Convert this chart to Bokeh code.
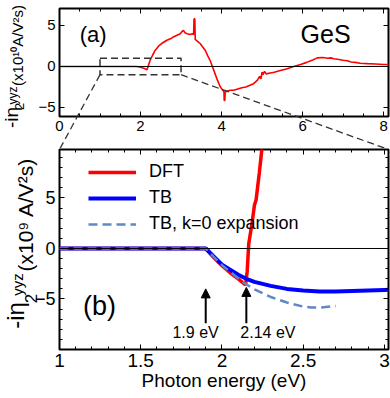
import numpy as np
from bokeh.plotting import figure
from bokeh.layouts import column
from bokeh.models import (Range1d, LinearAxis, FixedTicker, Span, Arrow,
                          NormalHead, Label)
from bokeh.core.properties import value
from bokeh.embed import file_html
from bokeh.resources import INLINE

FONT = "Liberation Sans"

# ---------------- data: panel (a) DFT spectrum (x10^10 A/V^2 s) ----------------
top_energy = [0, 1.9, 2.0, 2.1, 2.16, 2.2, 2.24, 2.3, 2.36, 2.45, 2.55, 2.65, 2.75, 2.81,
              2.9, 2.98, 3.03, 3.06, 3.1, 3.15, 3.22, 3.28, 3.31, 3.32, 3.34, 3.35, 3.4,
              3.47, 3.53, 3.6, 3.66, 3.72, 3.78, 3.84, 3.9, 3.97, 4.03, 4.06, 4.065, 4.08,
              4.09, 4.15, 4.21, 4.3, 4.4, 4.5, 4.6, 4.7, 4.79, 4.88, 4.94, 4.97, 5.0, 5.02,
              5.06, 5.1, 5.2, 5.3, 5.45, 5.6, 5.78, 5.95, 6.1, 6.25, 6.36, 6.5, 6.62, 6.7,
              6.77, 6.9, 7.0, 7.1, 7.2, 7.3, 7.42, 7.6, 7.8, 8.0, 8.12]
top_dft = [0, 0, -0.1, -0.25, -0.4, 0.2, 0.8, 1.4, 1.95, 2.5, 2.9, 3.2, 3.4, 3.6,
           3.8, 4.0, 4.3, 4.4, 4.1, 4.0, 3.9, 4.0, 3.9, 5.8, 5.8, 3.3, 3.1,
           2.8, 2.4, 1.95, 1.3, 0.7, -0.1, -0.9, -1.7, -2.5, -2.9, -3.1, -4.15, -4.15,
           -3.1, -3.0, -2.9, -2.9, -2.75, -2.6, -2.5, -2.3, -2.1, -1.7, -1.2, -1.5, -0.7, -1.0,
           -0.6, -0.9, -0.8, -0.7, -0.5, -0.3, 0.0, 0.25, 0.5, 0.8, 1.05, 1.1, 1.0, 1.05,
           0.95, 0.85, 0.75, 0.7, 0.55, 0.5, 0.4, 0.35, 0.3, 0.25, 0.25]
zoom_box_x = [1, 3]
zoom_box_y = [-1, 1]

# ---------------- data: panel (b) (x10^9 A/V^2 s) ----------------
dft_energy = [1.0, 1.9, 1.95, 2.0, 2.05, 2.1, 2.145, 2.155, 2.165, 2.185, 2.2, 2.21,
              2.215, 2.23, 2.25]
dft_val = [0, 0, -0.9, -1.7, -2.4, -3.0, -3.6, -2.3, 0.5, 2.5, 4.3, 4.8, 5.5, 7.5, 10.5]
tb_energy = [1.0, 1.9, 1.95, 2.0, 2.05, 2.1, 2.15, 2.2, 2.3, 2.4, 2.5, 2.6, 2.7, 2.8,
             2.9, 3.0, 3.05]
tb_val = [0, 0, -0.8, -1.6, -2.1, -2.6, -3.0, -3.3, -3.7, -4.0, -4.15, -4.25, -4.25,
          -4.2, -4.15, -4.1, -4.08]
k0_energy = [1.0, 1.9, 1.95, 2.0, 2.05, 2.1, 2.15, 2.2, 2.3, 2.4, 2.5, 2.55, 2.6, 2.7]
k0_val = [0, 0, -0.85, -1.65, -2.3, -2.95, -3.55, -4.05, -4.8, -5.35, -5.75, -5.85,
          -5.85, -5.7]
marker_energy = [1.9, 2.15]
marker_text = ["1.9 eV", "2.14 eV"]
marker_tail = [-7.4, -7.4]
marker_head = [-4.0, -3.85]

# ---------------- layout constants (pixels) ----------------
FW = 329           # frame width, both panels
LB = 59            # left border
RB = 2             # right border
FH1, TOP1, BOT1 = 108, 8, 32     # panel (a): frame h, top border, bottom border
FH2, TOP2, BOT2 = 200, 1, 49     # panel (b)
XR1, YR1 = (0, 8.12), (-6.1, 7.07)
XR2, YR2 = (1, 3.025), (-10, 9.8)


def style_axis(ax, size, labels=True):
    ax.axis_line_color = None
    ax.major_tick_in = 5
    ax.major_tick_out = 0
    ax.minor_tick_in = 3
    ax.minor_tick_out = 0
    ax.major_tick_line_color = "black"
    ax.minor_tick_line_color = "black"
    ax.major_label_text_font = FONT
    if labels:
        ax.major_label_text_color = "black"
        ax.major_label_text_font_size = size
        ax.major_label_standoff = 4
    else:
        ax.major_label_text_color = None
        ax.major_label_text_font_size = "1px"
        ax.major_label_standoff = 0


def base_fig(fh, xr, yr, top, bottom):
    p = figure(frame_width=FW, frame_height=fh, x_range=Range1d(*xr), y_range=Range1d(*yr),
               output_backend="svg", toolbar_location=None,
               min_border_left=LB, min_border_right=RB, min_border_top=top,
               min_border_bottom=bottom)
    p.xgrid.visible = False
    p.ygrid.visible = False
    p.outline_line_color = "black"
    p.outline_line_width = 2
    p.outline_line_alpha = 1
    p.background_fill_color = "white"
    p.border_fill_color = "white"
    return p


def mirror_axes(p, xt, yt):
    a = LinearAxis(ticker=xt)
    style_axis(a, None, labels=False)
    p.add_layout(a, "above")
    r = LinearAxis(ticker=yt)
    style_axis(r, None, labels=False)
    p.add_layout(r, "right")


def ylab(p, xr, yr, dx, dy, text, size):
    # rotated text placed relative to the frame's bottom-left corner (pixels)
    p.text(x=[xr[0]], y=[yr[0]], text=[text], x_offset=dx, y_offset=dy, angle=np.pi / 2,
           text_align="center", text_baseline="middle", text_font=value(FONT),
           text_font_size=size, text_color="black", level="overlay")


# ================= panel (a) =================
p1 = base_fig(FH1, XR1, YR1, TOP1, BOT1)
xt1 = FixedTicker(ticks=[0, 2, 4, 6, 8], minor_ticks=list(np.arange(0, 8.01, 0.5)))
yt1 = FixedTicker(ticks=[-5, 0, 5], minor_ticks=[])
p1.xaxis.ticker = xt1
p1.yaxis.ticker = yt1
style_axis(p1.xaxis[0], "15px")
style_axis(p1.yaxis[0], "15px")
mirror_axes(p1, xt1, yt1)

p1.add_layout(Span(location=0, dimension="width", line_color="black", line_width=1))
p1.line(top_energy, top_dft, line_color="#ff0000", line_width=1.6)
p1.quad(left=[zoom_box_x[0]], right=[zoom_box_x[1]], bottom=[zoom_box_y[0]],
        top=[zoom_box_y[1]], fill_color=None, line_color="#333333", line_width=1.5,
        line_dash="7 4")
# connector lines from the zoom box to the corners of panel (b)
y_conn = YR1[0] - (BOT1 + TOP2) * (YR1[1] - YR1[0]) / FH1
p1.segment(x0=[zoom_box_x[0], zoom_box_x[1]], y0=[zoom_box_y[0], zoom_box_y[0]],
           x1=[XR1[0], XR1[1]], y1=[y_conn, y_conn], line_color="#333333",
           line_width=1.3, line_dash="7 4", level="overlay")

p1.add_layout(Label(x=0.5, y=3.9, text="(a)", text_font=FONT, text_font_size="22px",
                    text_baseline="middle", text_align="left", text_color="black"))
p1.add_layout(Label(x=5.95, y=3.9, text="GeS", text_font=FONT, text_font_size="25px",
                    text_baseline="middle", text_align="left", text_color="black"))

ylab(p1, XR1, YR1, -42, -71, "(x10¹⁰A/V²s)", "15px")
ylab(p1, XR1, YR1, -48, 1, "-iη", "19px")
ylab(p1, XR1, YR1, -47, -21, "yyz", "12px")
ylab(p1, XR1, YR1, -40, -10, "2", "13px")

# ================= panel (b) =================
p2 = base_fig(FH2, XR2, YR2, TOP2, BOT2)
xt2 = FixedTicker(ticks=[1, 1.5, 2, 2.5, 3],
                  minor_ticks=list(np.round(np.arange(1, 3.001, 0.1), 2)))
yt2 = FixedTicker(ticks=[-5, 0, 5], minor_ticks=list(range(-10, 11)))
p2.xaxis.ticker = xt2
p2.yaxis.ticker = yt2
style_axis(p2.xaxis[0], "19px")
style_axis(p2.yaxis[0], "18px")
p2.xaxis[0].major_label_standoff = 4
p2.xaxis.axis_label = "Photon energy (eV)"
p2.xaxis.axis_label_text_font = FONT
p2.xaxis.axis_label_text_font_size = "19px"
p2.xaxis.axis_label_text_font_style = "normal"
p2.xaxis.axis_label_text_color = "black"
p2.xaxis.axis_label_standoff = 0
mirror_axes(p2, xt2, yt2)

p2.add_layout(Span(location=0, dimension="width", line_color="black", line_width=1))
p2.line(dft_energy, dft_val, line_color="#ff0000", line_width=3.5, legend_label="DFT")
p2.line(tb_energy, tb_val, line_color="#0000ff", line_width=4, legend_label="TB")
p2.line(k0_energy, k0_val, line_color="#6088c8", line_width=2.5, line_dash="9 5",
        legend_label="TB, k=0 expansion")

leg = p2.legend[0]
leg.location = (29, FH2 - 15 - 70)
leg.label_text_font = FONT
leg.label_text_font_size = "18px"
leg.label_text_color = "black"
leg.glyph_width = 48
leg.glyph_height = 20
leg.label_height = 20
leg.spacing = 5
leg.padding = 0
leg.margin = 0
leg.label_standoff = 13
leg.border_line_color = None
leg.background_fill_alpha = 0

for xe, y0, y1 in zip(marker_energy, marker_tail, marker_head):
    p2.add_layout(Arrow(end=NormalHead(size=9, fill_color="black", line_color="black"),
                        x_start=xe, y_start=y0, x_end=xe, y_end=y1,
                        line_color="black", line_width=2))
p2.add_layout(Label(x=marker_energy[0], y=-8.3, text=marker_text[0], x_offset=13,
                    text_align="right", text_baseline="middle", text_font=FONT,
                    text_font_size="16px", text_color="black"))
p2.add_layout(Label(x=marker_energy[1], y=-8.3, text=marker_text[1], x_offset=-6,
                    text_align="left", text_baseline="middle", text_font=FONT,
                    text_font_size="16px", text_color="black"))
p2.add_layout(Label(x=1.145, y=-5.7, text="(b)", text_font=FONT, text_font_size="27px",
                    text_baseline="middle", text_align="left", text_color="black"))

ylab(p2, XR2, YR2, -34, -135, "(x10⁹ A/V²s)", "21px")
ylab(p2, XR2, YR2, -44, -34, "-iη", "24px")
ylab(p2, XR2, YR2, -42, -65, "yyz", "15px")
ylab(p2, XR2, YR2, -29, -51, "2", "17px")

layout = column(p1, p2, spacing=0)
open("out.html", "w").write(file_html(layout, INLINE))
